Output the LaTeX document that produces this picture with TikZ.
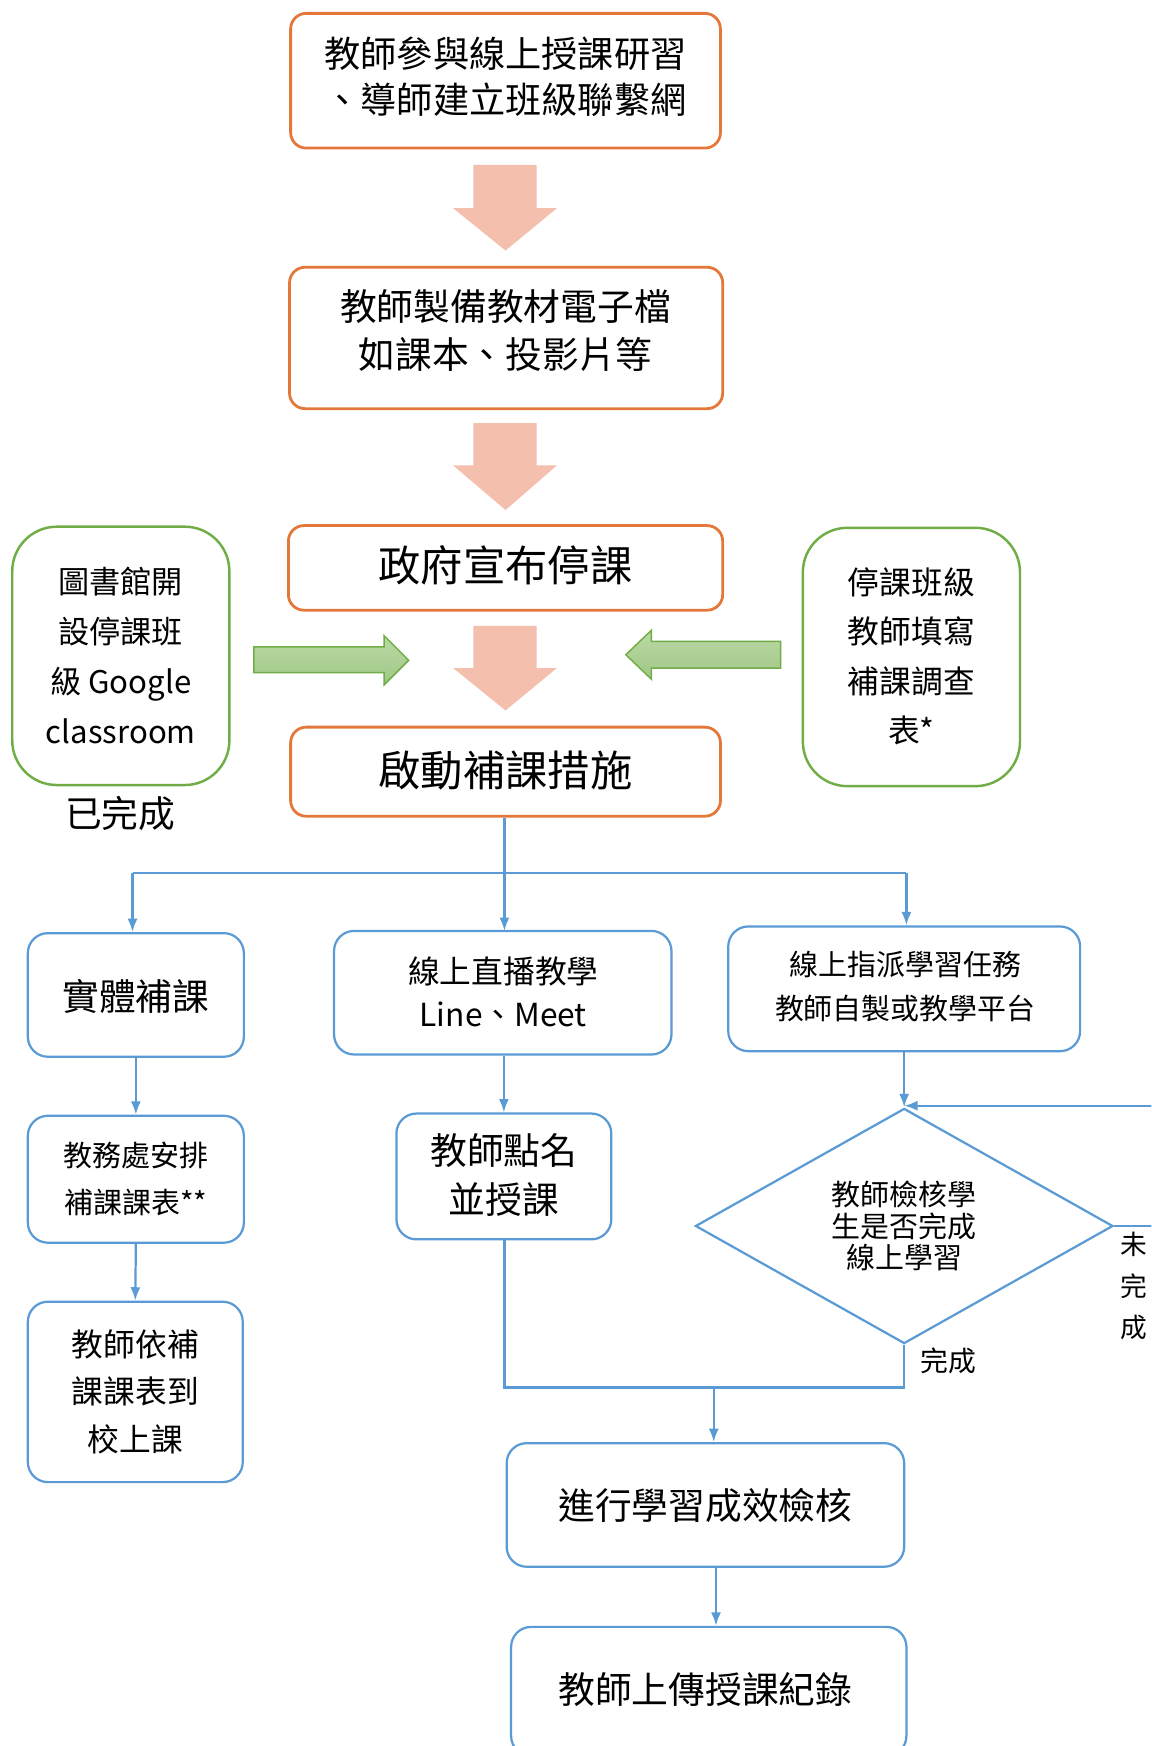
\documentclass[tikz,border=0pt]{standalone}
\usepackage{fontspec}
\setmainfont{Noto Sans CJK TC}
\usetikzlibrary{arrows.meta,shapes.geometric}
\definecolor{orn}{HTML}{E4783A}
\definecolor{blu}{HTML}{5B9BD5}
\definecolor{grn}{HTML}{70AD47}
\definecolor{sal}{HTML}{F4BFAC}
\definecolor{gfill}{HTML}{A9D18E}
\newcommand\fs[2]{\fontsize{#1}{#2}\selectfont}
\tikzset{
 obox/.style={draw=orn, line width=2.5pt, rounded corners=14pt, inner sep=0pt},
 bbox/.style={draw=blu, line width=2pt, rounded corners=18pt, inner sep=0pt},
 gbox/.style={draw=grn, line width=2.2pt, rounded corners=40pt, inner sep=0pt},
 txt/.style={align=center, inner sep=0pt, text=black},
 conn/.style={draw=blu, line width=2pt},
 arr/.style={conn, -{Latex[length=12pt,width=9pt]}},
 garrow/.style={draw=grn, line width=1.3pt, top color=gfill!80!white, bottom color=gfill!95!black},
}
\begin{document}
\begin{tikzpicture}[x=1pt,y=-1pt]
\useasboundingbox (0,0) rectangle (1034,1568);
\clip (0,0) rectangle (1034,1568);
\fill[white] (0,0) rectangle (1034,1568);

% orange boxes
\node[obox, minimum width=386pt, minimum height=121pt] (n1) at (454,72.5) {};
\node[txt, font=\fs{32.5}{42}] (t1) at (454,69) {教師參與線上授課研習\\、導師建立班級聯繫網};
\node[obox, minimum width=389pt, minimum height=127pt] (n2) at (454.5,303.5) {};
\node[txt, font=\fs{33}{43}] (t2) at (454,296.5) {教師製備教材電子檔\\如課本、投影片等};
\node[obox, minimum width=390pt, minimum height=76pt] (n3) at (454,510) {};
\node[txt, font=\fs{38}{44}] (t3) at (454,508) {政府宣布停課};
\node[obox, minimum width=386pt, minimum height=80pt] (n4) at (454,693) {};
\node[txt, font=\fs{38}{44}] (t4) at (454,692) {啟動補課措施};

% salmon block arrows
\foreach \t/\b/\p in {148/187/225, 380/418/458, 562/600/638}{
  \fill[sal] (425,\t) -- (482,\t) -- (482,\b) -- (500,\b) -- (454,\p) -- (407,\b) -- (425,\b) -- cycle;
}

% green boxes
\node[gbox, minimum width=195pt, minimum height=232pt] (gl) at (108.5,589) {};
\node[txt, font=\fs{28}{45}] (tgl) at (108.5,588.5) {圖書館開\\設停課班\\級 Google\\classroom};
\node[txt, font=\fs{33}{40}] (done) at (108,731) {已完成};
\node[gbox, minimum width=195pt, minimum height=232pt] (gr) at (818.5,590) {};
\node[txt, font=\fs{28.5}{44.3}] (tgr) at (818.5,589.5) {停課班級\\教師填寫\\補課調查\\表*};

% green arrows
\path[garrow] (228,581) -- (345,581) -- (345,571) -- (367,593) -- (345,615) -- (345,604) -- (228,604) -- cycle;
\path[garrow] (701,576) -- (585,576) -- (585,566) -- (562,588) -- (585,610) -- (585,600) -- (701,600) -- cycle;

% blue boxes
\node[bbox, minimum width=194pt, minimum height=111pt] (b1) at (122,893.5) {};
\node[txt, font=\fs{33}{40}] (tb1) at (122,895) {實體補課};
\node[bbox, minimum width=303pt, minimum height=111pt] (b2) at (451.5,891.5) {};
\node[txt, font=\fs{28.5}{39}] (tb2) at (452,890.5) {線上直播教學\\Line、Meet};
\node[bbox, minimum width=316pt, minimum height=112pt] (b3) at (812,888) {};
\node[txt, font=\fs{26}{40}] (tb3) at (813,886) {線上指派學習任務\\教師自製或教學平台};
\node[bbox, minimum width=194pt, minimum height=114pt] (b4) at (122,1059) {};
\node[txt, font=\fs{26}{42}] (tb4) at (122,1059) {教務處安排\\補課課表**};
\node[bbox, minimum width=193pt, minimum height=162pt] (b5) at (121.5,1250) {};
\node[txt, font=\fs{28.5}{43}] (tb5) at (121.5,1250) {教師依補\\課課表到\\校上課};
\node[bbox, minimum width=193pt, minimum height=113pt] (b6) at (452.5,1056.5) {};
\node[txt, font=\fs{33}{44}] (tb6) at (452.5,1055) {教師點名\\並授課};
\node[draw=blu, line width=2pt, diamond, minimum width=375pt, minimum height=206pt, inner sep=0pt, align=center, font=\fs{26}{28.5}] (dm) at (812,1101) {教師檢核學\\生是否完成\\線上學習};
\node[bbox, minimum width=357pt, minimum height=111pt] (b7) at (633.5,1351.5) {};
\node[txt, font=\fs{33}{40}] (tb7) at (633.5,1352) {進行學習成效檢核};
\node[bbox, minimum width=355pt, minimum height=116pt] (b8) at (636.5,1519) {};
\node[txt, font=\fs{33}{40}] (tb8) at (633.5,1517) {教師上傳授課紀錄};

% labels
\node[txt, font=\fs{24}{37}] (nd) at (1018,1155) {未\\完\\成};
\node[txt, font=\fs{25}{30}] (ok) at (852,1222) {完成};

% connectors
\coordinate (jL) at (119,784);
\coordinate (jR) at (814,784);
\draw[arr] (n4.south -| 453,0) -- (453,836);
\draw[conn] (jL) -- (jR);
\draw[arr] (jL) -- (jL |- b1.north);
\draw[arr] (jR) -- (jR |- b3.north);
\draw[arr] (b1.south) -- (b4.north);
\draw[arr] (b4.south) -- (b5.north);
\draw[arr] (b6.north |- b2.south) -- (b6.north);
\draw[arr] (b3.south) -- (dm.north);
\coordinate (lr) at (1050,1101);
\coordinate (lt) at (1050,993);
\draw[conn] (dm.east) -- (lr) -- (lt);
\draw[arr] (lt) -- (dm.north |- lt);
\coordinate (mL) at (453,1246);
\coordinate (mR) at (812,1246);
\coordinate (mM) at (641,1246);
\draw[conn] (b6.south -| mL) -- (mL) -- (mR) -- (dm.south);
\draw[arr] (mM) -- (mM |- b7.north);
\draw[arr] ([xshift=9.5pt]b7.south) -- ([xshift=9.5pt]b7.south |- b8.north);
\end{tikzpicture}
\end{document}
